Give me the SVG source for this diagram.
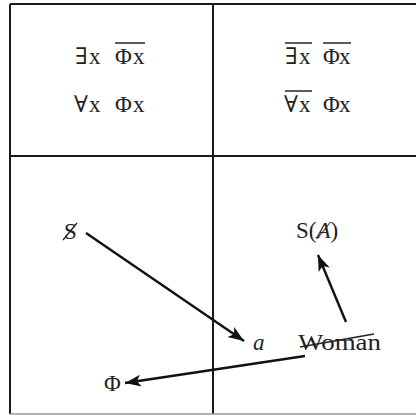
<svg xmlns="http://www.w3.org/2000/svg" width="416" height="416" viewBox="0 0 416 416">
<style>
.t{font-family:"Liberation Serif","DejaVu Serif",serif;font-size:23px;fill:#222}
.g{stroke:#1a1a1a;stroke-width:2;fill:none}
.ov{stroke:#333;stroke-width:1.6}
.ar{stroke:#111;stroke-width:2.4;fill:none}
</style>
<defs>
<marker id="ah" markerUnits="userSpaceOnUse" markerWidth="18" markerHeight="14" refX="16" refY="6" orient="auto">
<path d="M0,0 L16,6 L0,12 L4,6 z" fill="#111"/>
</marker>
</defs>
<rect width="416" height="416" fill="#fff"/>
<g id="grid">
<line class="g" x1="10" y1="4" x2="416" y2="4"/>
<line class="g" x1="10" y1="4" x2="10" y2="414"/>
<line class="g" x1="213" y1="4" x2="213" y2="414"/>
<line class="g" x1="10" y1="156" x2="416" y2="156"/>
<line x1="10" y1="414" x2="416" y2="414" stroke="#999" stroke-width="1.5"/>
</g>
<g id="cell-tl">
<text class="t" y="64"><tspan x="75">∃</tspan><tspan x="89">x</tspan><tspan x="115">Φ</tspan><tspan x="133">x</tspan></text>
<line class="ov" x1="115" y1="43" x2="145" y2="43"/>
<text class="t" y="112"><tspan x="74">∀</tspan><tspan x="89">x</tspan><tspan x="115">Φ</tspan><tspan x="133">x</tspan></text>
</g>
<g id="cell-tr">
<text class="t" y="64"><tspan x="285">∃</tspan><tspan x="299">x</tspan><tspan x="323">Φ</tspan><tspan x="339">x</tspan></text>
<line class="ov" x1="285" y1="43" x2="312" y2="43"/>
<line class="ov" x1="323" y1="43" x2="351" y2="43"/>
<text class="t" y="112"><tspan x="284">∀</tspan><tspan x="299">x</tspan><tspan x="323">Φ</tspan><tspan x="339">x</tspan></text>
<line class="ov" x1="285" y1="91" x2="312" y2="91"/>
</g>
<g id="barred-s">
<text class="t" x="64" y="239">S</text>
<line x1="63" y1="240" x2="77" y2="223" stroke="#222" stroke-width="1.3"/>
</g>
<g id="a">
<text class="t" x="253" y="350" font-style="italic">a</text>
</g>
<g id="woman">
<text class="t" x="298" y="350" textLength="83" lengthAdjust="spacingAndGlyphs">Woman</text>
<line x1="300" y1="347" x2="374" y2="334" stroke="#222" stroke-width="1.5"/>
</g>
<g id="s-a">
<text class="t" x="296" y="238">S(<tspan font-style="italic">Ⱥ</tspan>)</text>
</g>
<g id="phi">
<text class="t" x="104" y="391">Φ</text>
</g>
<g id="connectors">
<line class="ar" x1="86" y1="233" x2="244" y2="341" marker-end="url(#ah)"/>
<line class="ar" x1="346" y1="322" x2="318" y2="255" marker-end="url(#ah)"/>
<line class="ar" x1="305" y1="356" x2="125" y2="383" marker-end="url(#ah)"/>
</g>
</svg>
